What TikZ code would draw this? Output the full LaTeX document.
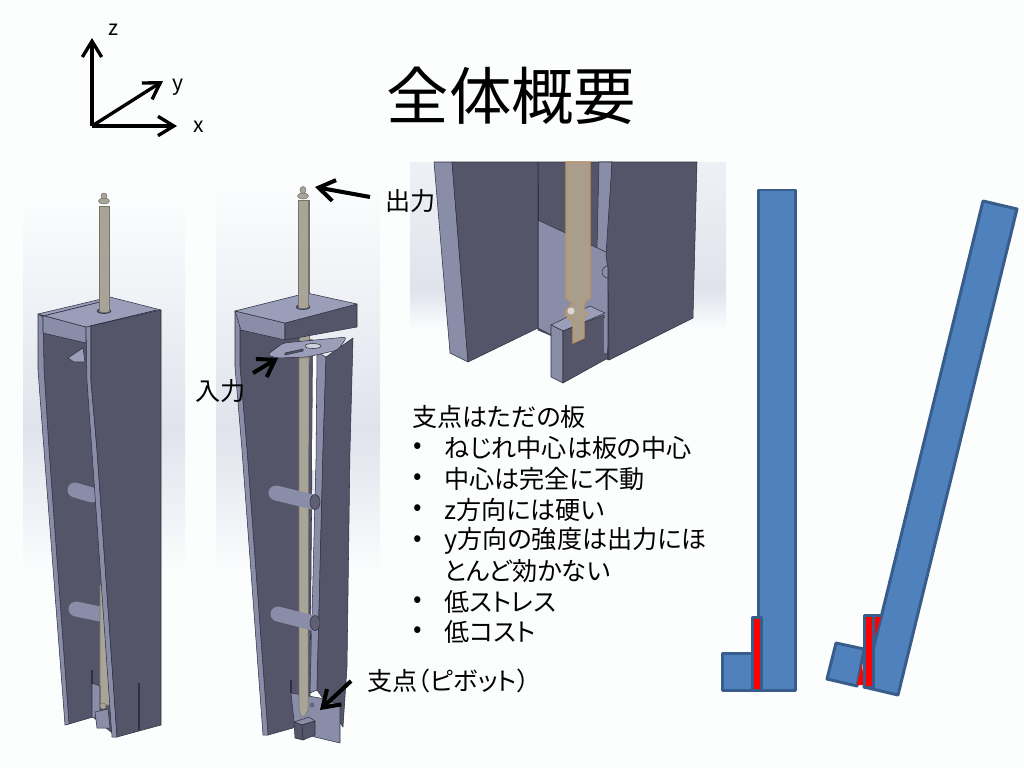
\documentclass[tikz,border=0pt]{standalone}
\usepackage{xcolor}
\usepackage{fontspec}
\setmainfont[RawFeature={+palt}]{Noto Sans CJK JP}
\usetikzlibrary{arrows.meta}
\definecolor{pagebg}{HTML}{FCFEFE}
\definecolor{patchmid}{HTML}{E0E3EC}
\definecolor{darkface}{HTML}{545568}
\definecolor{lightface}{HTML}{8A8DA8}
\definecolor{topface}{HTML}{9B9EB8}
\definecolor{edgeline}{HTML}{2E2F40}
\definecolor{rodgrey}{HTML}{A8A598}
\definecolor{rodcut}{HTML}{A99D8C}
\definecolor{beamblue}{HTML}{4F81BD}
\definecolor{beamedge}{HTML}{385D8A}
\tikzset{
  dark/.style={fill=darkface,draw=edgeline,line width=0.3pt,line join=round},
  light/.style={fill=lightface,draw=edgeline,line width=0.3pt,line join=round},
  top/.style={fill=topface,draw=edgeline,line width=0.3pt,line join=round},
  rod/.style={fill=rodgrey,draw=rodgrey!70!black,line width=0.3pt},
  pin/.style={line width=8.5pt,line cap=round,draw=lightface},
  beam/.style={fill=beamblue,draw=beamedge,line width=1.7pt,line join=round},
  axis/.style={line width=1.9pt,-{Straight Barb[length=9pt,width=11pt,line width=1.9pt]}},
  pointer/.style={line width=2.3pt,-{Straight Barb[length=9pt,width=12pt,line width=2.3pt]}},
  label/.style={inner sep=0pt,anchor=west,font=\fontsize{14.3pt}{17pt}\selectfont},
  axislabel/.style={inner sep=0pt,font=\fontsize{12pt}{14pt}\selectfont},
}
\newcommand{\bgpatch}[6]{% x0 y0 x1 ymid y1, top colour
  \shade [top color=#6,bottom color=patchmid] (#1,-#2) rectangle (#3,-#4);
  \shade [top color=patchmid,bottom color=pagebg] (#1,-#4) rectangle (#3,-#5);
}
\begin{document}
\begin{tikzpicture}[x=0.02cm,y=0.02cm]
\fill [pagebg] (0,0) rectangle (1024,-768);
\useasboundingbox (0,0) rectangle (1024,-768);
% backgrounds of the three renders
\bgpatch{23}{186}{185}{430}{577}{pagebg}
\bgpatch{216}{174}{380}{430}{580}{pagebg}
\bgpatch{410}{162}{726}{290}{330}{patchmid!50!pagebg}
% axes
\coordinate (origin) at (92,-126);
\coordinate (zend) at (92,-38);
\coordinate (yend) at (163,-81);
\coordinate (xend) at (177,-126);
\draw [axis] (origin) -- (zend);
\draw [axis] (origin) -- (yend);
\draw [axis] (origin) -- (xend);
\node [axislabel] (zlabel) at (114,-30) {z};
\node [axislabel] (ylabel) at (178,-87) {y};
\node [axislabel] (xlabel) at (199,-127) {x};
% title
\node [inner sep=0pt,font=\fontsize{35.5pt}{40pt}\selectfont] (title) at (511.5,-96) {全体概要};
% first render
\draw [dark] (43,-317) -- (86,-330) -- (117,-737) -- (93,-717) -- (69,-724) -- (49,-450) -- (44,-370) -- cycle;
\draw [light] (38,-314) -- (43,-317) -- (44,-370) -- (49,-450) -- (69,-724) -- (65,-725) -- (44,-450) -- (38,-370) -- cycle;
\draw [light] (41,-315) -- (86,-327) -- (86,-343) -- (43,-333) -- (43,-317) -- cycle;
\draw [top] (68,-358) -- (83,-348) -- (85,-362) -- (74,-362) -- cycle;
\draw [pin] (75,-490) -- (92,-495);
\draw [pin] (76,-609) -- (100,-614);
\draw [rod] (100,-585) -- (103,-585) -- (111,-705) -- (100,-705) -- cycle;
\draw [light] (92,-683) -- (100,-686) -- (100,-720) -- (92,-717) -- cycle;
\draw [edgeline,line width=0.8pt] (92,-670) -- (92,-684);
\draw [light] (95,-712) -- (108,-709) -- (110,-728) -- (97,-728) -- cycle;
\draw [rod] (103,-706) circle (3);
\draw [light] (86,-327) -- (91,-325) -- (91,-381) -- (97,-450) -- (117,-737) -- (112,-737) -- (87,-381) -- cycle;
\draw [dark] (91,-325) -- (161,-310) -- (161,-725) -- (117,-737) -- (97,-450) -- (91,-381) -- cycle;
\draw [edgeline,line width=0.9pt] (139,-683) -- (139,-730);
\draw [top] (38,-314) -- (110,-297) -- (161,-310) -- (86,-327) -- cycle;
\draw [edgeline,line width=0.4pt] (43,-316) -- (108,-300);
\draw [edgeline,line width=0.4pt] (90,-326) -- (157,-310);
\draw [top,fill=darkface] (104,-311) ellipse (7 and 2.5);
\draw [rod] (99.5,-206) rectangle (109,-311);
\draw [rod] (99.5,-311) arc (180:360:4.75 and 1.5);
\draw [rod] (104,-201) ellipse (5.5 and 3);
\draw [rod] (104,-196) ellipse (3 and 3);
% second render
\draw [dark] (240,-330) -- (313,-340) -- (310,-697) -- (293,-728) -- (268,-735) -- (247,-450) -- (240,-367) -- cycle;
\draw [light] (235,-311) -- (240,-313) -- (240,-367) -- (247,-450) -- (268,-735) -- (263,-735) -- (242,-450) -- (235,-367) -- cycle;
\draw [fill=pagebg,draw=none] (313,-345) -- (317,-345) -- (316,-470) -- (312,-470) -- cycle;
\draw [light] (317,-352) -- (326,-357) -- (323,-450) -- (317,-690) -- (310,-693) -- (316,-460) -- cycle;
\draw [dark] (326,-357) -- (353,-338) -- (350,-450) -- (347,-667) -- (343,-727) -- (317,-690) -- (323,-450) -- cycle;
\draw [edgeline,line width=0.8pt] (291,-680) -- (291,-693);
\draw [light] (291,-693) -- (320,-698) -- (340,-705) -- (340,-743) -- (315,-737) -- (295,-730) -- cycle;
\fill [lightface!60!edgeline] (312,-705) circle (2.5);
\draw [rod] (299,-200) rectangle (309,-360);
\draw [top,rounded corners=2pt] (267,-355) -- (283,-343) -- (347,-337) -- (338,-350) -- (307,-357) -- (277,-358) -- cycle;
\draw [dark] (285,-353) -- (303,-349) -- (303,-351) -- (285,-355) -- cycle;
\draw [top,fill=pagebg!60!lightface] (313,-346) ellipse (8 and 2.5);
\draw [rod] (299,-358) -- (309,-358) -- (308,-710) -- (305,-716) -- (301,-716) -- (299,-710) -- cycle;
\draw [pin] (276,-493) -- (313,-502);
\draw [top,fill=darkface!80!lightface] (315,-502) ellipse (5 and 7.5);
\draw [pin] (278,-614) -- (313,-623);
\draw [top,fill=darkface!80!lightface] (315,-623) ellipse (5 and 7.5);
\draw [light] (294,-722) -- (309,-717) -- (315,-721) -- (302,-725) -- cycle;
\draw [dark] (294,-722) -- (302,-725) -- (303,-740) -- (295,-738) -- cycle;
\draw [dark] (302,-725) -- (315,-721) -- (315,-735) -- (303,-740) -- cycle;
\draw [light] (235,-311) -- (285,-323) -- (285,-340) -- (241,-330) -- cycle;
\draw [dark] (285,-323) -- (357,-304) -- (357,-327) -- (285,-340) -- cycle;
\draw [top] (235,-311) -- (307,-293) -- (357,-304) -- (285,-323) -- cycle;
\draw [top,fill=darkface] (303,-307) ellipse (7 and 2.5);
\draw [rod] (298,-200) rectangle (308,-307);
\draw [rod] (298,-307) arc (180:360:5 and 1.5);
\draw [rod] (303,-196) ellipse (5.5 and 3);
\draw [rod] (303,-190) ellipse (3 and 3.5);
\coordinate (outstart) at (370,-197);
\coordinate (outend) at (315,-187);
\coordinate (instart) at (253,-373);
\coordinate (inend) at (278,-358);
\coordinate (pivotstart) at (351,-681);
\coordinate (pivotend) at (320,-710);
\draw [pointer] (outstart) -- (outend);
\draw [pointer] (instart) -- (inend);
\draw [pointer] (pivotstart) -- (pivotend);
\node [label] (outlabel) at (385,-201) {出力};
\node [label] (inlabel) at (195,-391) {入力};
\node [label] (pivotlabel) at (367,-681) {支点（ピボット）};
% third render
\draw [dark] (538,-162) -- (612,-162) -- (609,-360) -- (538,-330) -- cycle;
\draw [light] (599,-162) -- (612,-162) -- (608,-258) -- (597,-250) -- cycle;
\draw [light] (538,-220) -- (608,-253) -- (608,-358) -- (570,-345) -- (538,-328) -- cycle;
\draw [edgeline,line width=0.6pt] (538,-184) -- (538,-220);
\draw [light] (434,-162) -- (452,-162) -- (468,-362) -- (450,-353) -- cycle;
\draw [dark] (452,-162) -- (538,-162) -- (538,-328) -- (468,-362) -- cycle;
\draw [top] (551,-325) -- (590,-306) -- (605,-313) -- (563,-331) -- cycle;
\draw [light] (551,-325) -- (563,-331) -- (563,-383) -- (551,-377) -- cycle;
\draw [dark] (563,-331) -- (604,-315) -- (608,-358) -- (563,-383) -- cycle;
\fill [lightface] (604,-318) rectangle (607,-353);
\draw [fill=rodcut,draw=rodcut!70!orange,line width=0.6pt] (566,-162) -- (590,-162) -- (590,-298) -- (584,-303) -- (584,-310) -- (588,-314) -- (584,-318) -- (584,-338) -- (573,-343) -- (573,-322) -- (566,-316) -- (566,-310) -- (573,-303) -- (566,-298) -- cycle;
\fill [rodgrey!40!pagebg] (571,-311) circle (3.5);
\draw [dark] (612,-162) -- (697,-162) -- (693,-318) -- (609,-360) -- (608,-270) -- (606,-255) -- cycle;
\draw [light] (608,-266) arc (90:270:6) -- cycle;
% text block
\node [label] (headline) at (412,-417) {支点はただの板};
\foreach \name/\ypos/\bodytext in {one/448/ねじれ中心は板の中心,two/479/中心は完全に不動,three/510/z方向には硬い,four/541/y方向の強度は出力にほ,six/602/低ストレス,seven/632/低コスト} {
  \node [label] (bullet\name) at (413,-\ypos) {•};
  \node [label] (line\name) at (444,-\ypos) {\bodytext};
}
\node [label] (linefive) at (444,-571) {とんど効かない};
% beam sketches
\draw [beam] (758,-190) rectangle (795,-690);
\draw [beam] (722,-653) rectangle (752,-690);
\draw [beam,fill=red] (752,-617) rectangle (761,-690);
\draw [beam] (983,-201) -- (1017,-209) -- (898,-695) -- (864,-687) -- cycle;
\draw [beam] (836,-643) -- (864,-649) -- (857,-686) -- (827,-679) -- cycle;
\fill [red] (862,-663) -- (857,-685) -- (864,-685) -- cycle;
\fill [red] (874,-617) -- (881,-617) -- (874,-640) -- cycle;
\draw [beam,fill=none] (873,-615) -- (882,-615);
\draw [beam,fill=red] (864,-615) rectangle (873,-687);
\end{tikzpicture}
\end{document}
